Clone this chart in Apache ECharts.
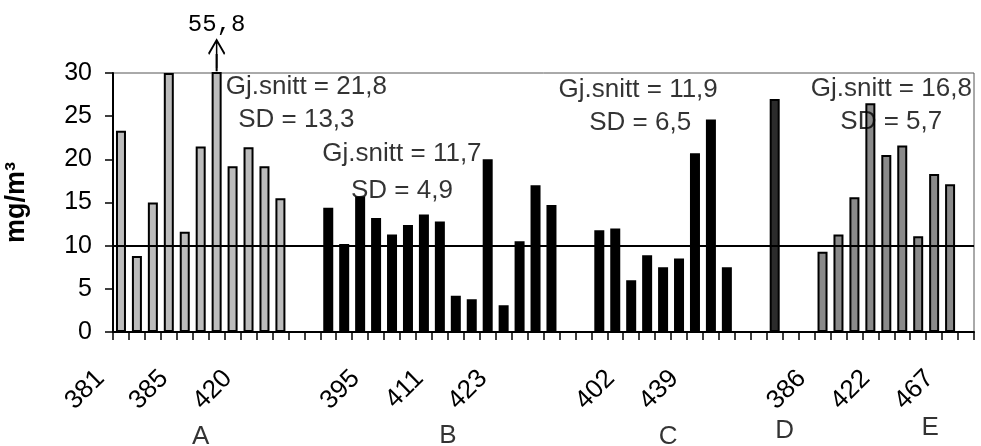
<!DOCTYPE html>
<html lang="no">
<head>
    <meta charset="UTF-8">
    <title>mg/m3 per prøve</title>
    <style>
        html, body { margin: 0; padding: 0; background: #fff; }
    </style>
</head>
<body>
<div id="chart" style="width:981px;height:446px;"></div>

<script src="https://cdn.jsdelivr.net/npm/echarts@6/dist/echarts.min.js"></script>
<script type="text/javascript">

    // measured values per group (mg/m3)
    var groupA = [23.3, 8.8, 15.0, 30.0, 11.6, 21.5, 55.8, 19.2, 21.4, 19.2, 15.5];
    var groupB = [14.4, 10.2, 15.7, 13.2, 11.3, 12.4, 13.6, 12.8, 4.2, 3.8, 20.0, 3.1, 10.5, 17.0, 14.7];
    var groupC = [11.8, 12.0, 6.0, 8.9, 7.5, 8.5, 20.7, 24.6, 7.5];
    var groupD = [27.0];
    var groupE = [9.3, 11.3, 15.6, 26.5, 20.5, 21.6, 11.1, 18.3, 17.1];

    var groupNames = ['A', 'B', 'C', 'D', 'E'];
    var groupStart = [0, 13, 30, 41, 44];
    var categoryCount = 54;

    // sample ids shown under the axis
    var tickLabels = ['381', '385', '420', '395', '411', '423', '402', '439', '386', '422', '467'];
    var tickLabelIndex = [0, 4, 8, 16, 20, 24, 32, 36, 44, 48, 52];

    var limitValue = 10;
    var yMin = 0, yMax = 30, yStep = 5;

    var noteTexts = ['Gj.snitt = 21,8', 'SD = 13,3', 'Gj.snitt = 11,7', 'SD = 4,9',
                     'Gj.snitt = 11,9', 'SD = 6,5', 'Gj.snitt = 16,8', 'SD = 5,7'];

    // where the notes and group letters sit: [category, value, x nudge]
    var noteAt = [[12, 28.4, -6], [11, 24.6, 0], [18, 20.6, -6], [18, 16.3, -6],
                  [32, 28.0, 7], [32, 24.2, 9], [48, 28.2, 5], [48, 24.3, 5]];
    var letterAt = [[5, -12.2, 0], [20, -12.0, 8], [34, -12.1, 5], [42, -11.4, -6], [51, -11.1, -4]];
    var arrowFrom = 30.2, arrowTo = 32.2;   // arrow over the off-scale bar in A
    var arrowIndex = 6;

    var categories = [];
    for (var i = 0; i < categoryCount; i++) categories.push('k' + i);
    var labelFor = {};
    tickLabelIndex.forEach(function (idx, n) { labelFor[idx] = tickLabels[n]; });

    function spread(values, start) {
        var out = [];
        for (var i = 0; i < categoryCount; i++) out.push(null);
        values.forEach(function (v, n) { out[start + n] = v; });
        return out;
    }

    var fills = ['#bcbcbc', '#000000', '#000000', '#2b2b2b', '#8a8a8a'];
    var groups = [groupA, groupB, groupC, groupD, groupE];
    var font = 'Liberation Sans, Arial, sans-serif';

    var series = groups.map(function (vals, g) {
        return {
            name: groupNames[g],
            type: 'bar',
            data: spread(vals, groupStart[g]),
            barWidth: 10,
            barGap: '-100%',
            itemStyle: { color: fills[g], borderColor: '#000', borderWidth: 2 }
        };
    });

    series[1].markLine = {
        silent: true,
        symbol: 'none',
        label: { show: false },
        lineStyle: { color: '#000', width: 2, type: 'solid' },
        data: [{ yAxis: limitValue }]
    };

    series.push({
        name: 'pil',
        type: 'line',
        clip: false,
        silent: true,
        lineStyle: { color: '#000', width: 2 },
        data: [
            { value: [arrowIndex, arrowFrom], symbol: 'none' },
            {
                value: [arrowIndex, arrowTo],
                symbol: 'path://M0,10 L5,0 L10,10 M5,0 L5,20',
                symbolSize: [16, 28],
                itemStyle: { color: 'rgba(0,0,0,0)', borderColor: '#000', borderWidth: 2 },
                label: {
                    show: true,
                    position: 'top',
                    distance: 2,
                    formatter: function () { return String(groupA[arrowIndex]).replace('.', ','); },
                    fontFamily: 'Liberation Mono, Courier New, monospace',
                    fontSize: 24,
                    color: '#000'
                }
            }
        ]
    });

    function textSeries(name, at, texts, size) {
        return {
            name: name,
            type: 'scatter',
            clip: false,
            silent: true,
            symbolSize: 1,
            itemStyle: { color: 'rgba(0,0,0,0)' },
            data: at.map(function (p) {
                return { value: [p[0], p[1]], label: { offset: [p[2], 0] } };
            }),
            label: {
                show: true,
                position: 'inside',
                formatter: function (p) { return texts[p.dataIndex]; },
                fontFamily: font,
                fontSize: size,
                color: '#000'
            },
            z: 10
        };
    }
    series.push(textSeries('notes', noteAt, noteTexts, 26));
    series.push(textSeries('letters', letterAt, groupNames, 26));

    var myChart = echarts.init(document.getElementById('chart'));
    var option = {
        animation: false,
        backgroundColor: '#fff',
        grid: {
            left: 113, right: 7, top: 73, bottom: 114,
            containLabel: false,
            outerBoundsMode: 'none',
            show: true,
            borderColor: '#555',
            borderWidth: 1
        },
        xAxis: {
            type: 'category',
            data: categories,
            boundaryGap: true,
            axisLine: { show: true, lineStyle: { color: '#000', width: 2 } },
            axisTick: { show: true, interval: 0, length: 8, lineStyle: { color: '#000', width: 1.5 } },
            splitLine: { show: false },
            axisLabel: {
                interval: 0,
                rotate: 45,
                margin: 22,
                padding: [0, 29, 0, 0],
                fontFamily: font,
                fontSize: 26,
                color: '#000',
                formatter: function (v, idx) { return labelFor[idx] || ''; }
            }
        },
        yAxis: {
            type: 'value',
            min: yMin, max: yMax, interval: yStep,
            name: 'mg/m³',
            nameLocation: 'middle',
            nameRotate: 90,
            nameGap: 83,
            nameTextStyle: { fontFamily: font, fontSize: 27, fontWeight: 'bold', color: '#000' },
            axisLine: { show: true, lineStyle: { color: '#000', width: 2 } },
            axisTick: { show: true, length: 8, lineStyle: { color: '#000', width: 1.5 } },
            splitLine: { show: false },
            axisLabel: { margin: 21, fontFamily: font, fontSize: 25, color: '#000' }
        },
        series: series
    };
    myChart.setOption(option);
</script>

</body>
</html>
